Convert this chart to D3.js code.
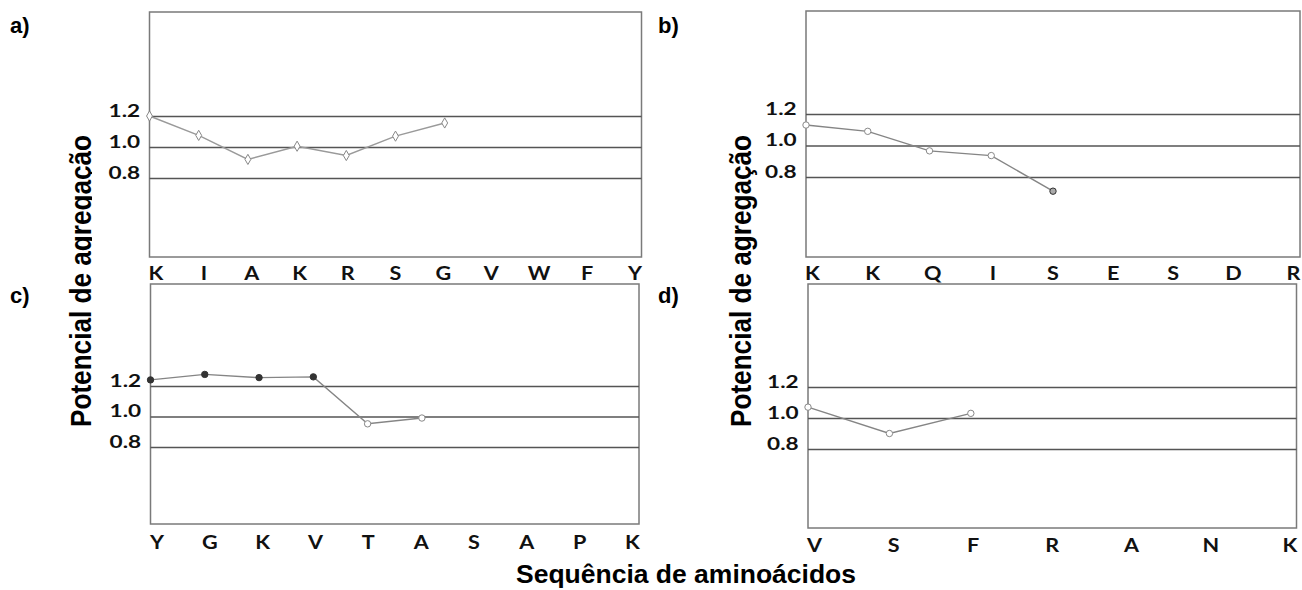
<!DOCTYPE html>
<html>
<head>
<meta charset="utf-8">
<script src="https://cdn.jsdelivr.net/npm/d3@7"></script>
<style>
  html, body { margin: 0; padding: 0; background: #fff; }
  svg { display: block; }
</style>
</head>
<body>
<svg id="chart" width="1302" height="590"></svg>
<script>
// ---- data ----
const catsA = ["K","I","A","K","R","S","G","V","W","F","Y"];
const valsA = [1.20, 1.075, 0.92, 1.005, 0.945, 1.07, 1.155];
const catsB = ["K","K","Q","I","S","E","S","D","R"];
const valsB = [1.13, 1.09, 0.966, 0.936, 0.71];
const catsC = ["Y","G","K","V","T","A","S","A","P","K"];
const valsC = [1.24, 1.276, 1.255, 1.26, 0.952, 0.99];
const catsD = ["V","S","F","R","A","N","K"];
const valsD = [1.07, 0.90, 1.03];
const yTicks = [0.8, 1.0, 1.2];
const panelLabels = ["a)", "b)", "c)", "d)"];
const yTitle = "Potencial de agregação";
const xTitle = "Sequência de aminoácidos";

const svg = d3.select("#chart");
const titleFont = "'Liberation Sans', Arial, sans-serif";
const tickFont = "Lato, 'Open Sans', sans-serif";

// y titles (drawn first; panel a's white backdrop clips the left one like the original)
[[91, 281], [751, 281]].forEach(([x, y]) => {
  svg.append("text")
    .attr("transform", `translate(${x},${y}) scale(1.2,1) rotate(-90)`)
    .attr("text-anchor", "middle")
    .attr("font-family", titleFont)
    .attr("font-weight", "bold")
    .attr("font-size", 25)
    .attr("textLength", 292)
    .attr("lengthAdjust", "spacingAndGlyphs")
    .attr("fill", "#000")
    .text(yTitle);
});

// panel a backdrop (clips the descenders of the left title)
svg.append("rect").attr("x", 92).attr("y", 0).attr("width", 560).attr("height", 262).attr("fill", "#fff");

const panels = [
  {cats: catsA, vals: valsA, x0: 149.5, x1: 641.5, top: 12, bottom: 257, y08: 178, y12: 116, lab: 280,
   marker: "diamond", filled: () => false, lx: 10, ly: 33},
  {cats: catsB, vals: valsB, x0: 806, x1: 1300, top: 11, bottom: 257, y08: 177, y12: 114, lab: 280,
   marker: "circle", filled: (i, n) => i === n - 1 ? "#aaa" : false, lx: 658, ly: 33},
  {cats: catsC, vals: valsC, x0: 150.5, x1: 639, top: 284, bottom: 524, y08: 447, y12: 386, lab: 549,
   marker: "circle", filled: (i) => i < 4 ? "#333" : false, lx: 10, ly: 303},
  {cats: catsD, vals: valsD, x0: 808, x1: 1296.5, top: 284, bottom: 528, y08: 449, y12: 387, lab: 552,
   marker: "circle", filled: () => false, lx: 658, ly: 303}
];

panels.forEach((p, pi) => {
  const g = svg.append("g");
  const idx = d3.range(p.cats.length);
  const x = d3.scalePoint().domain(idx).range([p.x0, p.x1]);
  const xl = d3.scalePoint().domain(idx).range([p.x0 + 6, p.x1 - 7]);
  const y = d3.scaleLinear().domain([0.8, 1.2]).range([p.y08, p.y12]);

  // frame
  g.append("rect")
    .attr("x", p.x0).attr("y", p.top)
    .attr("width", p.x1 - p.x0).attr("height", p.bottom - p.top)
    .attr("fill", "#fff").attr("stroke", "#7a7a7a").attr("stroke-width", 1.5);

  // y axis with full-width reference lines
  const ya = g.append("g")
    .attr("transform", `translate(${p.x0},0)`)
    .call(d3.axisLeft(y).tickValues(yTicks).tickFormat(d3.format(".1f"))
      .tickSize(-(p.x1 - p.x0)).tickPadding(7));
  ya.select(".domain").remove();
  ya.selectAll(".tick line").attr("stroke", "#555").attr("stroke-width", 1.6);
  ya.selectAll(".tick text")
    .attr("font-family", tickFont).attr("font-weight", "bold")
    .attr("font-size", 17).attr("fill", "#111")
    .attr("dy", "0.02em")
    .attr("transform", "scale(1.33,1)");

  // x category labels
  const xa = g.append("g")
    .attr("transform", `translate(0,${p.lab - 13})`)
    .call(d3.axisBottom(xl).tickFormat(i => p.cats[i]).tickSize(0).tickPadding(0));
  xa.select(".domain").remove();
  xa.selectAll(".tick text")
    .attr("font-family", tickFont).attr("font-weight", "bold")
    .attr("font-size", 18).attr("fill", "#111")
    .attr("dy", "0.71em")
    .attr("transform", "scale(1.2,1)");

  // series line
  const line = d3.line().x((d, i) => x(i)).y(d => y(d));
  g.append("path").datum(p.vals)
    .attr("d", line).attr("fill", "none")
    .attr("stroke", pi === 0 ? "#9a9a9a" : "#858585").attr("stroke-width", 1.4);

  // markers
  const mk = g.selectAll(".mk").data(p.vals).enter();
  if (p.marker === "diamond") {
    mk.append("path")
      .attr("d", d3.symbol().type(d3.symbolDiamond).size(30))
      .attr("transform", (d, i) => `translate(${x(i)},${y(d)})`)
      .attr("fill", "#fff").attr("stroke", "#888").attr("stroke-width", 1);
  } else {
    mk.append("circle")
      .attr("cx", (d, i) => x(i)).attr("cy", d => y(d)).attr("r", 3.2)
      .attr("fill", (d, i) => p.filled(i, p.vals.length) || "#fff")
      .attr("stroke", (d, i) => p.filled(i, p.vals.length) ? "#333" : "#888")
      .attr("stroke-width", 1);
  }

  // panel label
  svg.append("text")
    .attr("x", p.lx).attr("y", p.ly)
    .attr("font-family", titleFont).attr("font-weight", "bold")
    .attr("font-size", 22).attr("fill", "#000")
    .text(panelLabels[pi]);
});

// x title
svg.append("text")
  .attr("x", 686).attr("y", 583)
  .attr("text-anchor", "middle")
  .attr("font-family", titleFont).attr("font-weight", "bold")
  .attr("font-size", 25)
  .attr("textLength", 340).attr("lengthAdjust", "spacingAndGlyphs")
  .attr("fill", "#000")
  .text(xTitle);
</script>
</body>
</html>
